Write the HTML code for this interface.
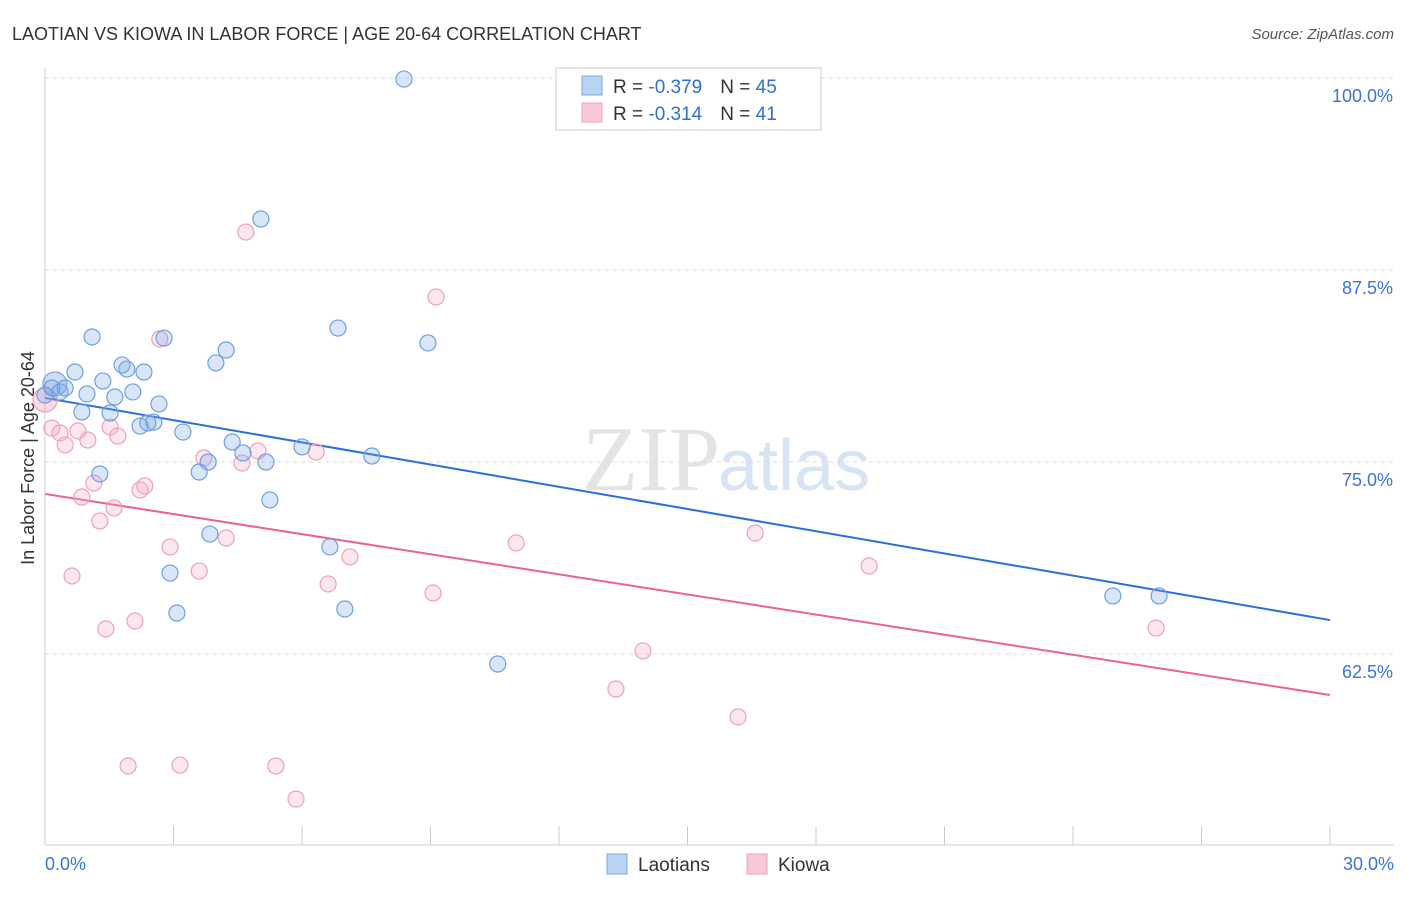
<!DOCTYPE html>
<html><head><meta charset="utf-8">
<style>
body{margin:0;background:#fff;font-family:"Liberation Sans",sans-serif;}
#wrap{position:relative;width:1406px;height:892px;}
</style></head>
<body>
<div id="wrap">
<svg id="chart" width="1406" height="892">
<text x="12" y="40" font-size="18" fill="#333">LAOTIAN VS KIOWA IN LABOR FORCE | AGE 20-64 CORRELATION CHART</text>
<text x="1394" y="39" font-size="15" fill="#555" font-style="italic" text-anchor="end">Source: ZipAtlas.com</text>
<text x="720" y="490" font-size="92" fill="#e4e4e4" text-anchor="end" font-family="Liberation Serif,serif">ZIP</text>
<text x="718" y="490" font-size="72" fill="#d6e4f4">atlas</text>
<text transform="translate(34,458) rotate(-90)" font-size="18" fill="#333" text-anchor="middle">In Labor Force | Age 20-64</text>
<g id="grid"></g><g id="axes"></g><g id="lines"></g><g id="pts"></g>
<g>
<rect x="556" y="68" width="265" height="62" fill="#fff" stroke="#ccc"/>
<rect x="582" y="76" width="20" height="19" fill="#b9d3f3" stroke="#7ea8e0"/>
<rect x="582" y="103" width="20" height="19" fill="#f9c8d7" stroke="#eea0bb"/>
<text x="613" y="93" font-size="19" fill="#333">R = <tspan fill="#2f6fd0">-0.379</tspan><tspan dx="18">N = </tspan><tspan fill="#2f6fd0">45</tspan></text>
<text x="613" y="120" font-size="19" fill="#333">R = <tspan fill="#2f6fd0"> -0.314</tspan><tspan dx="18">N = </tspan><tspan fill="#2f6fd0"> 41</tspan></text>
</g>
<g>
<rect x="607" y="854" width="20" height="20" fill="#b9d3f3" stroke="#7ea8e0"/>
<text x="638" y="871" font-size="19" fill="#333">Laotians</text>
<rect x="747" y="854" width="20" height="20" fill="#f9c8d7" stroke="#eea0bb"/>
<text x="778" y="871" font-size="19" fill="#333">Kiowa</text>
</g>
</svg>
</div>
<script>
const blueX=[0.16,0,0.35,0.47,0.70,0.86,0.98,1.10,1.28,1.35,1.52,1.63,1.80,1.91,2.05,2.22,2.31,2.40,2.54,2.66,2.78,2.92,3.08,3.22,3.60,3.81,3.85,3.99,4.23,4.37,4.62,5.04,5.16,5.25,6.00,6.65,6.84,7.00,7.63,8.38,8.94,10.57,24.93,26.01];
const blueY=[79.82,79.36,79.56,79.82,80.86,78.26,79.43,83.14,74.22,80.27,78.19,79.23,81.32,81.05,79.56,77.34,80.86,77.54,77.60,78.78,83.07,67.77,65.17,76.95,74.35,75.00,70.31,81.45,82.29,76.30,75.59,90.82,75.00,72.53,75.98,69.47,83.72,65.43,75.39,99.93,82.75,61.85,66.28,66.28];
const pinkX=[0.16,0.35,0.47,0.63,0.77,0.86,1.00,1.14,1.28,1.42,1.52,1.61,1.70,1.94,2.10,2.22,2.33,2.68,2.92,3.15,3.60,3.71,4.23,4.60,4.69,4.97,5.39,5.86,6.33,6.61,7.12,9.06,9.13,11.00,13.33,13.96,16.18,16.58,19.24,25.94];
const pinkY=[77.21,76.89,76.11,67.58,77.02,72.72,76.43,73.63,71.16,64.13,77.28,72.01,76.69,55.21,64.65,73.18,73.44,83.01,69.47,55.27,67.90,75.26,70.05,74.93,89.97,75.72,55.21,53.06,75.65,67.06,68.82,66.47,85.74,69.73,60.22,62.70,58.40,70.38,68.23,64.19];
const bigBlue=[0.23,80.08];
const bigPink=[0,79.04];
const blueTrend=[79.17,64.71];
const pinkTrend=[72.92,59.83];
const yTicks=[100,87.5,75,62.5];
const yTickLabels=["100.0%","87.5%","75.0%","62.5%"];
const xTickCount=10;
const xMax=30;

const NS="http://www.w3.org/2000/svg";
const X=v=>45+v/xMax*1285;
const Y=v=>78+(100-v)*15.36;
function mk(tag,attrs,parent){const e=document.createElementNS(NS,tag);for(const k in attrs)e.setAttribute(k,attrs[k]);document.getElementById(parent).appendChild(e);return e;}
yTicks.forEach((t,i)=>{
  const l=mk('line',{x1:45,x2:1394,y1:Y(t),y2:Y(t),stroke:'#ddd','stroke-dasharray':'4,4'},'grid');
  
  
  const tx=mk('text',{x:1393,y:Y(t)+24,'font-size':18,fill:'#3a74d4','text-anchor':'end'},'grid');
  tx.textContent=yTickLabels[i];
  
  
});
let a=mk('line',{x1:45,x2:45,y1:68,y2:845,stroke:'#ccc'},'axes');


a=mk('line',{x1:45,x2:1394,y1:845,y2:845,stroke:'#ccc'},'axes');


for(let i=0;i<=xTickCount;i++){
  const t=mk('line',{x1:X(i*xMax/xTickCount),x2:X(i*xMax/xTickCount),y1:826,y2:845,stroke:'#ccc'},'axes');
  
  
}
let t0=mk('text',{x:45,y:870,'font-size':18,fill:'#3a74d4'},'axes');t0.textContent='0.0%';


let t1=mk('text',{x:1394,y:870,'font-size':18,fill:'#3a74d4','text-anchor':'end'},'axes');t1.textContent='30.0%';


function dot(x,y,r,f,s,name){const c=mk('circle',{cx:X(x),cy:Y(y),r:r,fill:f,stroke:s,'stroke-width':1.2},'pts');
  
  }
dot(bigPink[0],bigPink[1],12,'rgba(240,150,180,0.35)','#eea0bb','kiowa-point');
dot(bigBlue[0],bigBlue[1],12,'rgba(110,160,225,0.35)','#7ea8e0','laotian-point');
pinkX.forEach((x,i)=>dot(x,pinkY[i],8,'rgba(245,170,195,0.28)','#eea0bb','kiowa-point'));
blueX.forEach((x,i)=>dot(x,blueY[i],8,'rgba(120,165,225,0.28)','#6f9fdf','laotian-point'));
let bl=mk('line',{x1:X(0),y1:Y(blueTrend[0]),x2:X(xMax),y2:Y(blueTrend[1]),stroke:'#2a6fd6','stroke-width':2},'lines');


let pl=mk('line',{x1:X(0),y1:Y(pinkTrend[0]),x2:X(xMax),y2:Y(pinkTrend[1]),stroke:'#e8648f','stroke-width':2},'lines');


</script>
</body></html>
